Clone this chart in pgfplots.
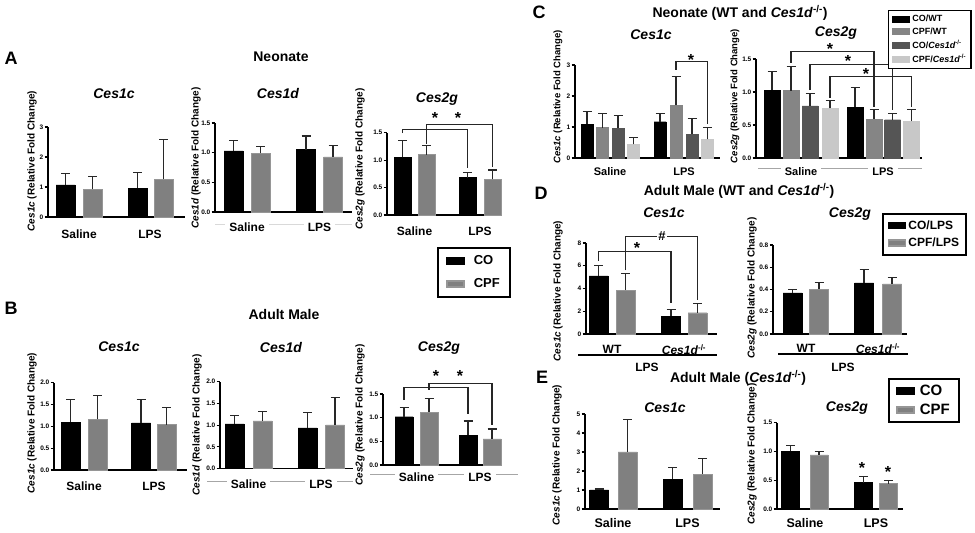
\documentclass[border=0pt]{standalone}
\usepackage{pgfplots}
\pgfplotsset{compat=1.18}
\usepackage{fontspec}
\setmainfont{Liberation Sans}
\newcommand\fs[1]{\fontsize{#1}{#1}\selectfont}
\newcommand\ko{\textit{Ces1d}\textsuperscript{-/-}}
\definecolor{gA}{RGB}{128,128,128}
\definecolor{gAb}{RGB}{150,150,150}
\definecolor{cpfwt}{RGB}{133,133,133}
\definecolor{coko}{RGB}{85,85,85}
\definecolor{cpfko}{RGB}{200,200,200}
\definecolor{ebc}{RGB}{40,40,40}
\pgfplotsset{
 gp/.style={scale only axis, axis x line*=bottom, axis y line*=left,
   axis line style={line width=1.3pt,-}, ymin=0, clip=false, ybar,
   tick align=outside, major tick length=3.5pt,
   ytick style={line width=1.1pt,black}, xtick style={draw=none},
   yticklabel style={font=\bfseries\fs{6.5}, inner sep=1pt},
   /pgf/number format/assume math mode=true,
   xticklabel style={font=\bfseries\fs{12}, anchor=center, fill=white, inner xsep=4pt, inner ysep=1pt}},
 dec/.style={yticklabel style={/pgf/number format/.cd, fixed, fixed zerofill, precision=1}},
 ebar/.style={bar shift=0pt, error bars/y dir=plus, error bars/y explicit,
   error bars/error bar style={line width=1.2pt, ebc},
   error bars/error mark=-,
   error bars/error mark options={rotate=90, line width=1.2pt, ebc, mark size=4.5pt}},
 co/.style={fill=black, draw=black, area legend, ebar},
 cpf/.style={fill=gA, draw=gAb, area legend, ebar},
 cpfwt/.style={fill=cpfwt, draw=cpfwt, area legend, ebar},
 coko/.style={fill=coko, draw=coko, area legend, ebar},
 cpfko/.style={fill=cpfko, draw=cpfko, area legend, ebar},
}
\tikzset{
 ttl/.style={font=\bfseries\itshape\fs{14}},
 hdr/.style={font=\bfseries\fs{14}},
 let/.style={font=\bfseries\fs{18}},
 yl/.style={rotate=90, font=\bfseries\fs{10}},
 brk/.style={line width=1.1pt, black!85},
 st/.style={font=\bfseries\fs{16}, inner sep=0pt, yshift=-3pt},
}
\begin{document}
\begin{tikzpicture}[x=1pt,y=1pt]
\begin{scope}[shift={(0pt,533pt)}, y=-1pt]
% ---------- decorative label-row lines ----------
\draw[black!15, line width=0.8pt] (215,224) -- (352,224);
\draw[black!35, line width=0.8pt] (207,481) -- (353,481);
\draw[black!35, line width=0.8pt] (370,474) -- (518,474);
\draw[black!35, line width=0.8pt] (758,168) -- (922,168);
% ---------- headers ----------
\node[let] at (11,58) {A};
\node[let] at (11,308) {B};
\node[let] at (539,12) {C};
\node[let] at (541,193) {D};
\node[let] at (542,377) {E};
\node[hdr] at (281,57) {Neonate};
\node[hdr] at (284,314) {Adult Male};
\node[hdr] at (740,13) {Neonate (WT and \ko)};
\node[hdr] at (739,191) {Adult Male (WT and \ko)};
\node[hdr] at (738,378) {Adult Male (\ko)};
% ---------- titles ----------
\node[ttl] at (114,94) {Ces1c};
\node[ttl] at (278,94) {Ces1d};
\node[ttl] at (437,99) {Ces2g};
\node[ttl] at (119,347) {Ces1c};
\node[ttl] at (281,348) {Ces1d};
\node[ttl] at (439,348) {Ces2g};
\node[ttl] at (651,35) {Ces1c};
\node[ttl] at (836,33) {Ces2g};
\node[ttl] at (664,213) {Ces1c};
\node[ttl] at (850,214) {Ces2g};
\node[ttl] at (665,408) {Ces1c};
\node[ttl] at (847,408) {Ces2g};
% ---------- y labels ----------
\node[yl] at (32,161) {\textit{Ces1c} (Relative Fold Change)};
\node[yl] at (196,158) {\textit{Ces1d} (Relative Fold Change)};
\node[yl] at (360,159) {\textit{Ces2g} (Relative Fold Change)};
\node[yl] at (32,423) {\textit{Ces1c} (Relative Fold Change)};
\node[yl] at (197,425) {\textit{Ces1d} (Relative Fold Change)};
\node[yl] at (360,415) {\textit{Ces2g} (Relative Fold Change)};
\node[yl, font=\bfseries\fs{9.5}] at (558,97) {\textit{Ces1c} (Relative Fold Change)};
\node[yl, font=\bfseries\fs{9.5}] at (735,96) {\textit{Ces2g} (Relative Fold Change)};
\node[yl] at (558,291) {\textit{Ces1c} (Relative Fold Change)};
\node[yl] at (752,288) {\textit{Ces2g} (Relative Fold Change)};
\node[yl] at (557,455) {\textit{Ces1c} (Relative Fold Change)};
\node[yl] at (752,454) {\textit{Ces2g} (Relative Fold Change)};
% ---------- D group bars ----------
\draw[line width=2.5pt] (578,355) -- (717,355);
\draw[line width=2.5pt] (778,354) -- (908,354);
\node[font=\bfseries\fs{12}] at (647,367) {LPS};
\node[font=\bfseries\fs{12}] at (843,367) {LPS};
\end{scope}

% ================= A Ces1c =================
\begin{axis}[gp, at={(48pt,316pt)}, anchor=south west, width=137pt, height=90pt,
  xmin=48, xmax=185, ymax=3, ytick={0,1,2,3}, xtick={79,150}, xticklabels={Saline,LPS},
  xticklabel style={yshift=-14pt}]
\addplot[co, bar width=19] table[x=x,y=y,y error=e,row sep=\\]{x y e\\ 65.5 1.07 0.38\\ 137.5 0.95 0.53\\};
\addplot[cpf, bar width=19] table[x=x,y=y,y error=e,row sep=\\]{x y e\\ 92.5 0.93 0.43\\ 163.5 1.26 1.32\\};
\end{axis}
% ================= A Ces1d =================
\begin{axis}[gp, dec, at={(215pt,321pt)}, anchor=south west, width=137pt, height=89pt,
  xmin=215, xmax=352, ymax=1.5, ytick={0,0.5,1,1.5}, xtick={247,319.5}, xticklabels={Saline,LPS},
  xticklabel style={yshift=-12pt}]
\addplot[co, bar width=19] table[x=x,y=y,y error=e,row sep=\\]{x y e\\ 233.5 1.03 0.18\\ 306 1.05 0.23\\};
\addplot[cpf, bar width=19] table[x=x,y=y,y error=e,row sep=\\]{x y e\\ 260.5 0.99 0.12\\ 333 0.93 0.19\\};
\end{axis}
% ================= A Ces2g =================
\begin{axis}[gp, dec, at={(387pt,318pt)}, anchor=south west, width=115pt, height=82.3pt,
  xmin=387, xmax=502, ymax=1.5, ytick={0,0.5,1,1.5}, xtick={414.5,480}, xticklabels={Saline,LPS},
  xticklabel style={yshift=-13pt},
  legend cell align=left,
  legend style={at={(0.4348,-0.3888)}, anchor=north west, draw=black, line width=1.8pt,
    font=\bfseries\fs{13}, inner xsep=8pt, inner ysep=6pt, row sep=8pt,
    /tikz/every odd column/.append style={column sep=7pt}},
  legend image code/.code={\fill[#1] (0pt,-6pt) rectangle (21pt,6pt);}]
\addplot[co, bar width=17] table[x=x,y=y,y error=e,row sep=\\]{x y e\\ 402.5 1.05 0.31\\ 467.5 0.68 0.10\\};
\addlegendentry{CO}
\addplot[cpf, bar width=17] table[x=x,y=y,y error=e,row sep=\\]{x y e\\ 426.5 1.10 0.16\\ 492.5 0.65 0.17\\};
\addlegendentry{CPF}
\draw[brk] (axis cs:402.5,1.49) |- (axis cs:467.5,1.56) -- (axis cs:467.5,0.85);
\draw[brk] (axis cs:426.5,1.30) |- (axis cs:492.5,1.65) -- (axis cs:492.5,0.88);
\node[st] at (axis cs:435,1.82) {*};
\node[st] at (axis cs:458,1.82) {*};
\end{axis}
% ================= B Ces1c =================
\begin{axis}[gp, dec, at={(54pt,63pt)}, anchor=south west, width=133pt, height=87.3pt,
  xmin=54, xmax=187, ymax=2, ytick={0,0.5,1,1.5,2}, xtick={84,154}, xticklabels={Saline,LPS},
  xticklabel style={yshift=-13pt}]
\addplot[co, bar width=19] table[x=x,y=y,y error=e,row sep=\\]{x y e\\ 70.5 1.09 0.52\\ 141 1.08 0.53\\};
\addplot[cpf, bar width=19] table[x=x,y=y,y error=e,row sep=\\]{x y e\\ 97.5 1.16 0.55\\ 166.5 1.04 0.39\\};
\end{axis}
% ================= B Ces1d =================
\begin{axis}[gp, dec, at={(220pt,64.3pt)}, anchor=south west, width=133pt, height=87pt,
  xmin=220, xmax=353, ymax=2, ytick={0,0.5,1,1.5,2}, xtick={248.5,321}, xticklabels={Saline,LPS},
  xticklabel style={yshift=-12.3pt}]
\addplot[co, bar width=19] table[x=x,y=y,y error=e,row sep=\\]{x y e\\ 234.5 1.03 0.20\\ 307.5 0.94 0.36\\};
\addplot[cpf, bar width=19] table[x=x,y=y,y error=e,row sep=\\]{x y e\\ 262.5 1.10 0.22\\ 335 1.01 0.62\\};
\end{axis}
% ================= B Ces2g =================
\begin{axis}[gp, dec, at={(383pt,68pt)}, anchor=south west, width=119pt, height=71pt,
  xmin=383, xmax=502, ymax=1.5, ytick={0,0.5,1,1.5}, xtick={416.5,480}, xticklabels={Saline,LPS},
  xticklabel style={yshift=-9pt}]
\addplot[co, bar width=18] table[x=x,y=y,y error=e,row sep=\\]{x y e\\ 404 1.02 0.20\\ 468 0.63 0.30\\};
\addplot[cpf, bar width=18] table[x=x,y=y,y error=e,row sep=\\]{x y e\\ 429 1.11 0.29\\ 492 0.55 0.21\\};
\draw[brk] (axis cs:404,1.37) |- (axis cs:468,1.63) -- (axis cs:468,1.08);
\draw[brk] (axis cs:429,1.59) |- (axis cs:492,1.73) -- (axis cs:492,0.85);
\node[st] at (axis cs:436,1.95) {*};
\node[st] at (axis cs:460,1.95) {*};
\end{axis}
% ================= C Ces1c =================
\begin{axis}[gp, at={(575pt,375pt)}, anchor=south west, width=145pt, height=93pt,
  xmin=575, xmax=720, ymax=3, ytick={0,1,2,3}, xtick={610,684}, xticklabels={Saline,LPS},
  xticklabel style={yshift=-10pt, font=\bfseries\fs{11}}]
\addplot[co, bar width=12] table[x=x,y=y,y error=e,row sep=\\]{x y e\\ 587 1.09 0.40\\ 660 1.17 0.26\\};
\addplot[cpfwt, bar width=12] table[x=x,y=y,y error=e,row sep=\\]{x y e\\ 602.5 0.98 0.45\\ 676 1.70 0.92\\};
\addplot[coko, bar width=12] table[x=x,y=y,y error=e,row sep=\\]{x y e\\ 618 0.96 0.40\\ 692 0.76 0.52\\};
\addplot[cpfko, bar width=12] table[x=x,y=y,y error=e,row sep=\\]{x y e\\ 633.5 0.44 0.23\\ 707.5 0.60 0.39\\};
\draw[brk] (axis cs:676,2.84) |- (axis cs:707.5,3.1) -- (axis cs:707.5,1.1);
\node[st] at (axis cs:691,3.26) {*};
\end{axis}
% ================= C Ces2g =================
\begin{axis}[gp, dec, at={(756pt,375pt)}, anchor=south west, width=166pt, height=99pt,
  xmin=756, xmax=922, ymax=1.5, ytick={0,0.5,1,1.5}, xtick={801,883}, xticklabels={Saline,LPS},
  xticklabel style={yshift=-10pt, font=\bfseries\fs{11}},
  legend cell align=left,
  legend style={at={(0.795,1.495)}, anchor=north west, draw=black, line width=1.5pt,
    font=\bfseries\fs{9}, inner xsep=3pt, inner ysep=2.5pt, row sep=0.5pt},
  legend image code/.code={\fill[#1] (0pt,-3.5pt) rectangle (10pt,3.5pt);}]
\addplot[co, bar width=16] table[x=x,y=y,y error=e,row sep=\\]{x y e\\ 772 1.03 0.28\\ 855 0.77 0.30\\};
\addlegendentry{CO/WT}
\addplot[cpfwt, bar width=16] table[x=x,y=y,y error=e,row sep=\\]{x y e\\ 791 1.02 0.37\\ 874 0.59 0.14\\};
\addlegendentry{CPF/WT}
\addplot[coko, bar width=16] table[x=x,y=y,y error=e,row sep=\\]{x y e\\ 810 0.79 0.19\\ 892.5 0.58 0.10\\};
\addlegendentry{CO/\ko}
\addplot[cpfko, bar width=16] table[x=x,y=y,y error=e,row sep=\\]{x y e\\ 830 0.75 0.12\\ 911.5 0.56 0.18\\};
\addlegendentry{CPF/\ko}
\draw[brk] (axis cs:791,1.44) |- (axis cs:874,1.61) -- (axis cs:874,0.77);
\draw[brk] (axis cs:810,1.03) |- (axis cs:892.5,1.42) -- (axis cs:892.5,0.72);
\draw[brk] (axis cs:830,0.91) |- (axis cs:911.5,1.23) -- (axis cs:911.5,0.78);
\node[st] at (axis cs:830,1.70) {*};
\node[st] at (axis cs:848,1.51) {*};
\node[st] at (axis cs:866,1.32) {*};
\end{axis}
% ================= D Ces1c =================
\begin{axis}[gp, at={(586pt,199pt)}, anchor=south west, width=131pt, height=91pt,
  xmin=586, xmax=717, ymax=8, ytick={0,2,4,6,8}, xtick={612,684}, xticklabels={WT,\ko},
  xticklabel style={yshift=-12pt, fill=none}]
\addplot[co, bar width=19] table[x=x,y=y,y error=e,row sep=\\]{x y e\\ 598.5 5.10 0.90\\ 671 1.58 0.59\\};
\addplot[cpf, bar width=19] table[x=x,y=y,y error=e,row sep=\\]{x y e\\ 625.5 3.86 1.47\\ 697.5 1.87 0.82\\};
\draw[brk] (axis cs:598.5,6.4) |- (axis cs:671,7.28) -- (axis cs:671,2.7);
\draw[brk] (axis cs:625.5,5.6) |- (axis cs:697.5,8.6) -- (axis cs:697.5,3.0);
\node[st] at (axis cs:637,7.8) {*};
\node[font=\bfseries\fs{13}, fill=white, inner sep=1.5pt] at (axis cs:662,8.6) {\#};
\end{axis}
% ================= D Ces2g =================
\begin{axis}[gp, dec, at={(773pt,199pt)}, anchor=south west, width=134pt, height=89pt,
  xmin=773, xmax=907, ymax=0.8, ytick={0,0.2,0.4,0.6,0.8}, xtick={806,878}, xticklabels={WT,\ko},
  xticklabel style={yshift=-11pt, fill=none},
  legend cell align=left,
  legend style={at={(0.813,1.36)}, anchor=north west, draw=black, line width=1.6pt,
    font=\bfseries\fs{12}, inner xsep=5pt, inner ysep=5pt, row sep=3pt},
  legend image code/.code={\fill[#1] (0pt,-5pt) rectangle (15pt,5pt);}]
\addplot[co, bar width=19] table[x=x,y=y,y error=e,row sep=\\]{x y e\\ 792.5 0.37 0.03\\ 864 0.46 0.12\\};
\addlegendentry{CO/LPS}
\addplot[cpf, bar width=19] table[x=x,y=y,y error=e,row sep=\\]{x y e\\ 819 0.40 0.06\\ 892 0.45 0.06\\};
\addlegendentry{CPF/LPS}
\end{axis}
% ================= E Ces1c =================
\begin{axis}[gp, at={(585pt,24pt)}, anchor=south west, width=135pt, height=95pt,
  xmin=585, xmax=720, ymax=5, ytick={0,1,2,3,4,5}, xtick={613,687.5}, xticklabels={Saline,LPS},
  xticklabel style={yshift=-11pt, font=\bfseries\fs{12.5}}]
\addplot[co, bar width=19] table[x=x,y=y,y error=e,row sep=\\]{x y e\\ 599 1.00 0.05\\ 672.5 1.56 0.61\\};
\addplot[cpf, bar width=19] table[x=x,y=y,y error=e,row sep=\\]{x y e\\ 627.5 3.00 1.72\\ 702.5 1.83 0.84\\};
\end{axis}
% ================= E Ces2g =================
\begin{axis}[gp, dec, at={(777pt,24pt)}, anchor=south west, width=126pt, height=86.3pt,
  xmin=777, xmax=903, ymax=1.5, ytick={0,0.5,1,1.5}, xtick={805,876}, xticklabels={Saline,LPS},
  xticklabel style={yshift=-11pt, font=\bfseries\fs{12.5}},
  legend cell align=left,
  legend style={at={(0.881,1.518)}, anchor=north west, draw=black, line width=1.8pt,
    font=\bfseries\fs{15}, inner xsep=7pt, inner ysep=4pt, row sep=3pt,
    /tikz/every odd column/.append style={column sep=3pt}},
  legend image code/.code={\fill[#1] (0pt,-6pt) rectangle (18pt,6pt);}]
\addplot[co, bar width=18] table[x=x,y=y,y error=e,row sep=\\]{x y e\\ 790.5 1.00 0.10\\ 863.5 0.46 0.11\\};
\addlegendentry{CO}
\addplot[cpf, bar width=18] table[x=x,y=y,y error=e,row sep=\\]{x y e\\ 819 0.94 0.06\\ 888.5 0.44 0.05\\};
\addlegendentry{CPF}
\node[st] at (axis cs:862,0.77) {*};
\node[st] at (axis cs:888,0.69) {*};
\end{axis}
\pgfresetboundingbox
\useasboundingbox (0,0) rectangle (975,533);
\end{tikzpicture}
\end{document}
